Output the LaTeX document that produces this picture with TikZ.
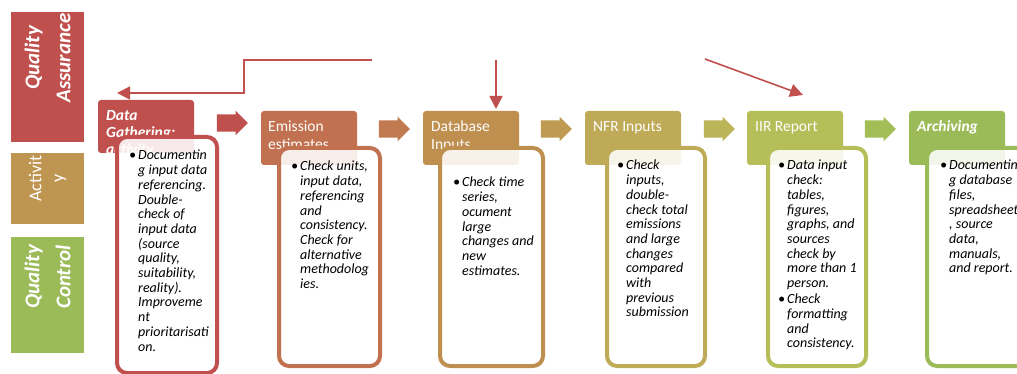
\documentclass[tikz,border=0pt]{standalone}
\usepackage{fontspec}
\setmainfont{Carlito}
\usetikzlibrary{shapes.arrows,arrows.meta}

\definecolor{qared}{HTML}{C0504D}
\definecolor{acttan}{HTML}{BF9552}
\definecolor{qcgreen}{HTML}{9BBB59}
\definecolor{cA}{HTML}{C0504D}
\definecolor{cB}{HTML}{C1714F}
\definecolor{cC}{HTML}{BF8F50}
\definecolor{cD}{HTML}{BEAA57}
\definecolor{cE}{HTML}{B6BE5A}
\definecolor{cF}{HTML}{9BBB59}
\definecolor{aB}{HTML}{C17A50}
\definecolor{aC}{HTML}{BF9A52}
\definecolor{aD}{HTML}{BCB458}
\definecolor{aE}{HTML}{A4BE57}

\newcommand\bu{\makebox[9pt][l]{\textbullet}}
\newcommand\blist[1]{\begin{tabular}[t]{@{}l@{}l@{}}#1\end{tabular}}
\newcommand\hlines[1]{\begin{tabular}[t]{@{}l@{}}#1\end{tabular}}

\tikzset{
  sidebox/.style={rectangle, anchor=north west, inner sep=0, outer sep=0},
  sidetxt/.style={rotate=90, text=white, align=center, inner sep=0},
  hdr/.style={rectangle, rounded corners=3pt, anchor=north west,
    minimum width=96pt, minimum height=54pt, inner sep=0, outer sep=0},
  hdrtxt/.style={anchor=base west, inner sep=0, text=white,
    font=\fontsize{15.5}{17.5}\selectfont},
  card/.style={rectangle, rounded corners=10pt, line width=4pt, fill=white,
    fill opacity=0.88, anchor=north west, minimum height=218pt,
    inner sep=0, outer sep=0},
  cardtxt/.style={anchor=base west, inner sep=0, text=black,
    font=\fontsize{14}{14.7}\selectfont\itshape},
  blk/.style={single arrow, single arrow head extend=3.5pt,
    text height=17pt, text depth=0pt, text width=0pt,
    minimum height=31pt, inner sep=0, outer sep=0},
  qaline/.style={draw=qared, line width=1.6pt,
    -{Triangle[length=13pt,width=13pt]}},
}

\begin{document}
\begin{tikzpicture}[x=1pt,y=-1pt]
\useasboundingbox (0,0) rectangle (1017,374);
\clip (0,0) rectangle (1017,374);

% side labels
\node[sidebox, fill=qared, minimum width=73pt, minimum height=130pt] (qa) at (11,12) {};
\node[sidetxt, font=\fontsize{21}{31}\selectfont\bfseries\itshape] at ([yshift=19pt]qa.center) {Quality\\Assurance};
\node[sidebox, fill=acttan, minimum width=73pt, minimum height=71pt] (act) at (11,153) {};
\node[sidetxt, font=\fontsize{18}{22}\selectfont] at ([yshift=10pt]act.center) {Activit\\y};
\node[sidebox, fill=qcgreen, minimum width=73pt, minimum height=116pt] (qc) at (11,237) {};
\node[sidetxt, font=\fontsize{21}{31}\selectfont\bfseries\itshape] at ([yshift=18pt]qc.center) {Quality\\Control};

% stage headers
\node[hdr, fill=cA, minimum height=53pt] (h1) at (98,100) {};
\node[hdrtxt, font=\fontsize{15.5}{17}\selectfont\bfseries\itshape] at (106,121) {\hlines{Data\\Gathering:\\activity}};
\node[hdr, fill=cB] (h2) at (261,111) {};
\node[hdrtxt] at (268,132) {\hlines{Emission\\estimates}};
\node[hdr, fill=cC] (h3) at (423,111) {};
\node[hdrtxt] at (431,132) {\hlines{Database\\Inputs}};
\node[hdr, fill=cD] (h4) at (585,111) {};
\node[hdrtxt] at (593,132) {NFR Inputs};
\node[hdr, fill=cE] (h5) at (747,111) {};
\node[hdrtxt] at (755,132) {IIR Report};
\node[hdr, fill=cF] (h6) at (909,111) {};
\node[hdrtxt, font=\fontsize{15.5}{17.5}\selectfont\bfseries\itshape] at (917,132) {Archiving};

% detail cards
\node[card, draw=cA, minimum width=100pt, minimum height=236pt] (b1) at (117,137) {};
\node[card, draw=cB, minimum width=101pt] (b2) at (279,148) {};
\node[card, draw=cC, minimum width=103pt] (b3) at (440,148) {};
\node[card, draw=cD, minimum width=98pt] (b4) at (607,148) {};
\node[card, draw=cE, minimum width=98pt] (b5) at (768,148) {};
\node[card, draw=cF, minimum width=100pt] (b6) at (927,148) {};

\node[cardtxt] at (129,160) {\blist{%
  \bu & Documentin\\ & g input data\\ & referencing.\\ & Double-\\
  & check of\\ & input data\\ & (source\\ & quality,\\ & suitability,\\
  & reality).\\ & Improveme\\ & nt\\ & prioritarisati\\ & on.}};
\node[cardtxt] at (291,171) {\blist{%
  \bu & Check units,\\ & input data,\\ & referencing\\ & and\\
  & consistency.\\ & Check for\\ & alternative\\ & methodolog\\ & ies.}};
\node[cardtxt] at (453,187) {\blist{%
  \bu & Check time\\ & series,\\ & ocument\\ & large\\
  & changes and\\ & new\\ & estimates.}};
\node[cardtxt] at (617,170) {\blist{%
  \bu & Check\\ & inputs,\\ & double-\\ & check total\\ & emissions\\
  & and large\\ & changes\\ & compared\\ & with\\ & previous\\ & submission}};
\node[cardtxt] at (778,170) {\blist{%
  \bu & Data input\\ & check:\\ & tables,\\ & figures,\\ & graphs, and\\
  & sources\\ & check by\\ & more than 1\\ & person.\\[1.5pt]
  \bu & Check\\ & formatting\\ & and\\ & consistency.}};
\node[cardtxt] at (940,170) {\blist{%
  \bu & Documentin\\ & g database\\ & files,\\ & spreadsheet\\
  & , source\\ & data,\\ & manuals,\\ & and report.}};

% flow arrows between stages
\node[blk, fill=cA] (a1) at (228,123) {};
\node[blk, fill=aB] (a2) at (390,129) {};
\node[blk, fill=aC] (a3) at (552,129) {};
\node[blk, fill=aD] (a4) at (715,129) {};
\node[blk, fill=aE] (a5) at (876,129) {};

% quality assurance connectors
\coordinate (qs1) at (372,60);
\coordinate (qk1) at (244,60);
\coordinate (qs2) at (496,60);
\coordinate (qs3) at (705,59);
\draw[qaline] (qs1) -- (qk1) |- ([xshift=19pt,yshift=7pt]h1.north west);
\draw[qaline] (qs2) -- ([yshift=2pt]h3.north west -| qs2);
\draw[qaline] (qs3) -- (803,95);
\end{tikzpicture}
\end{document}
